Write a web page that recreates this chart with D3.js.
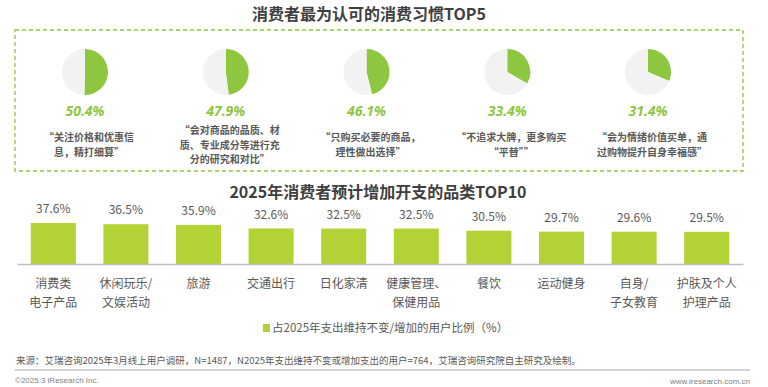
<!DOCTYPE html>
<html>
<head>
<meta charset="utf-8">
<script src="https://cdn.jsdelivr.net/npm/d3@7"></script>
<style>
  body { margin: 0; background: #fff; }
  svg { display: block; font-family: "Noto Sans CJK SC", "Noto Sans", sans-serif; }
</style>
</head>
<body>
<svg id="chart" width="768" height="387"></svg>
<script>
// top 5 habits
const habitValues = [50.4, 47.9, 46.1, 33.4, 31.4];
const habitTexts = [
    ['“关注价格和优惠信', '息，精打细算”'],
    ['“会对商品的品质、材', '质、专业成分等进行充', '分的研究和对比”'],
    ['“只购买必要的商品，', '理性做出选择”'],
    ['“不追求大牌，更多购买', '“平替””'],
    ['“会为情绪价值买单，通', '过购物提升自身幸福感”']
];

// top 10 categories
const categories = ['消费类\n电子产品', '休闲玩乐/\n文娱活动', '旅游', '交通出行', '日化家清',
    '健康管理、\n保健用品', '餐饮', '运动健身', '自身/\n子女教育', '护肤及个人\n护理产品'];
const categoryValues = [37.6, 36.5, 35.9, 32.6, 32.5, 32.5, 30.5, 29.7, 29.6, 29.5];

const legendLabel = '占2025年支出维持不变/增加的用户比例（%）';
const sourceNote = '来源：艾瑞咨询2025年3月线上用户调研，N=1487，N2025年支出维持不变或增加支出的用户=764，艾瑞咨询研究院自主研究及绘制。';

const textColor = '#595959';
const svg = d3.select('#chart');

// ---- section 1: pies ----
svg.append('text')
    .attr('x', 369).attr('y', 14)
    .attr('dy', '0.35em')
    .attr('text-anchor', 'middle')
    .style('font-size', '16px')
    .style('font-weight', 'bold')
    .style('fill', '#404040')
    .text('消费者最为认可的消费习惯TOP5');

svg.append('rect')
    .attr('x', 15).attr('y', 30)
    .attr('width', 728).attr('height', 141)
    .attr('fill', 'none')
    .attr('stroke', '#8dc63f')
    .attr('stroke-width', 1.3)
    .attr('stroke-dasharray', '4,3');

const xPie = d3.scalePoint()
    .domain(d3.range(habitValues.length))
    .range([85, 648]);

const pie = d3.pie().sort(null).value(d => d);
const arc = d3.arc().innerRadius(0).outerRadius(23);

const habit = svg.append('g')
    .selectAll('g')
    .data(habitValues)
    .join('g')
    .attr('transform', (d, i) => `translate(${xPie(i)}, 0)`);

habit.append('g')
    .attr('transform', 'translate(0, 72)')
    .selectAll('path')
    .data(d => pie([d, 100 - d]))
    .join('path')
    .attr('d', arc)
    .attr('fill', (d, i) => i === 0 ? '#8dc63f' : '#f2f2f2');

habit.append('text')
    .attr('y', 111)
    .attr('dy', '0.35em')
    .attr('text-anchor', 'middle')
    .style('font-family', '"Open Sans", sans-serif')
    .style('font-size', '14px')
    .style('font-weight', 'bold')
    .style('font-style', 'italic')
    .style('fill', '#8dc63f')
    .text(d => d.toFixed(1) + '%');

// quote text, wrapped as in the original
habit.append('text')
    .attr('x', 4)
    .attr('text-anchor', 'middle')
    .style('font-size', '10px')
    .style('font-weight', 'bold')
    .style('fill', textColor)
    .each(function (d, i) {
        const lines = habitTexts[i];
        const y0 = 145 - (lines.length - 1) * 14.5 / 2;
        d3.select(this).selectAll('tspan')
            .data(lines)
            .join('tspan')
            .attr('x', 4)
            .attr('y', (l, j) => y0 + j * 14.5)
            .attr('dy', '0.35em')
            .text(l => l);
    });

// ---- section 2: bars ----
svg.append('text')
    .attr('x', 378).attr('y', 192)
    .attr('dy', '0.35em')
    .attr('text-anchor', 'middle')
    .style('font-size', '16px')
    .style('font-weight', 'bold')
    .style('fill', '#404040')
    .text('2025年消费者预计增加开支的品类TOP10');

const xScale = d3.scaleBand()
    .domain(categories)
    .range([17, 743])
    .paddingInner(0.38)
    .paddingOuter(0.19);

const yScale = d3.scaleLinear()
    .domain([0, 37.6])
    .range([264, 223]);

svg.append('g')
    .selectAll('rect')
    .data(categoryValues)
    .join('rect')
    .attr('x', (d, i) => xScale(categories[i]))
    .attr('y', d => yScale(d))
    .attr('width', xScale.bandwidth())
    .attr('height', d => yScale(0) - yScale(d))
    .attr('fill', '#b2d235');

svg.append('g')
    .selectAll('text')
    .data(categoryValues)
    .join('text')
    .attr('x', (d, i) => xScale(categories[i]) + xScale.bandwidth() / 2)
    .attr('y', d => yScale(d) - 14)
    .attr('dy', '0.35em')
    .attr('text-anchor', 'middle')
    .style('font-size', '12px')
    .style('fill', textColor)
    .text(d => d.toFixed(1) + '%');

// baseline axis
const xAxis = svg.append('g')
    .attr('transform', `translate(0, ${yScale(0)})`)
    .call(d3.axisBottom(xScale).tickSize(0).tickFormat(''));
xAxis.select('.domain').attr('stroke', '#bfbfbf').attr('stroke-width', 1.5);

svg.append('g')
    .selectAll('text')
    .data(categories)
    .join('text')
    .attr('text-anchor', 'middle')
    .style('font-size', '12px')
    .style('fill', textColor)
    .each(function (c) {
        const cx = xScale(c) + xScale.bandwidth() / 2;
        d3.select(this).selectAll('tspan')
            .data(c.split('\n'))
            .join('tspan')
            .attr('x', cx)
            .attr('y', (l, j) => 284 + j * 19)
            .attr('dy', '0.35em')
            .text(l => l);
    });

// legend
const legend = svg.append('g').attr('transform', 'translate(263, 328)');
legend.append('rect')
    .attr('x', 0).attr('y', -4)
    .attr('width', 7).attr('height', 8)
    .attr('fill', '#b2d235');
legend.append('text')
    .attr('x', 9)
    .attr('dy', '0.35em')
    .style('font-size', '11.5px')
    .style('fill', textColor)
    .text(legendLabel);

// ---- footer ----
svg.append('text')
    .attr('x', 16).attr('y', 361)
    .attr('dy', '0.35em')
    .style('font-size', '9.5px')
    .style('fill', textColor)
    .text(sourceNote);

svg.append('line')
    .attr('x1', 15).attr('x2', 750)
    .attr('y1', 370).attr('y2', 370)
    .attr('stroke', '#a6a6a6')
    .attr('stroke-width', 1);

svg.append('text')
    .attr('x', 15).attr('y', 380)
    .attr('dy', '0.35em')
    .style('font-family', '"Liberation Sans", Arial, sans-serif')
    .style('font-size', '8px')
    .style('fill', '#7f7f7f')
    .text('©2025.3 iResearch Inc.');

svg.append('text')
    .attr('x', 750).attr('y', 381)
    .attr('dy', '0.35em')
    .attr('text-anchor', 'end')
    .style('font-family', '"Liberation Sans", Arial, sans-serif')
    .style('font-size', '8px')
    .style('fill', '#7f7f7f')
    .text('www.iresearch.com.cn');
</script>
</body>
</html>
